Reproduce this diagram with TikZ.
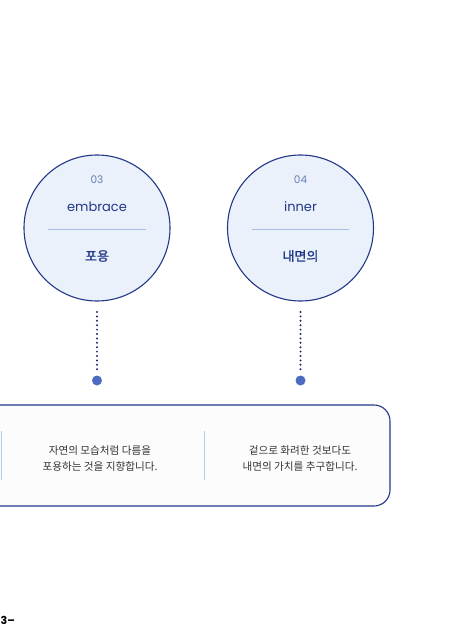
\documentclass[tikz,border=0pt]{standalone}
\usepackage{fontspec}
\setmainfont{Poppins}
\newfontfamily\kr{Noto Sans CJK KR}
\newfontfamily\krm[FakeBold=1.2]{Noto Sans CJK KR}
\newfontfamily\pop{Poppins}
\definecolor{navy}{HTML}{22388A}
\definecolor{cfill}{HTML}{EAF1FA}
\definecolor{sepline}{HTML}{A9BFE0}
\definecolor{dotc}{HTML}{1B2A78}
\definecolor{dotfill}{HTML}{4D6CBF}
\definecolor{numc}{HTML}{6A7EB6}
\definecolor{bodyc}{HTML}{333333}
\definecolor{boxfill}{HTML}{FCFCFC}
\definecolor{vsep}{HTML}{B5CDEB}
\begin{document}
\begin{tikzpicture}[x=1pt,y=-1pt,
  bubble/.style={circle,draw=navy,line width=1.1pt,fill=cfill,minimum size=146pt,inner sep=0pt},
  numtxt/.style={font=\pop\fontsize{10.5}{12}\selectfont,text=numc},
  entxt/.style={font=\pop\fontsize{13}{14}\selectfont,text=navy},
  krtxt/.style={font=\krm\fontsize{13}{14}\selectfont,text=navy},
  bodytxt/.style={font=\kr\fontsize{10.6}{16}\selectfont,text=bodyc,align=center},
  dotline/.style={dotc,line width=2.2pt,line cap=round,dash pattern=on 0pt off 4.4pt},
  enddot/.style={circle,fill=dotfill,minimum size=10pt,inner sep=0pt},
  innersep/.style={sepline,line width=0.8pt}]
\useasboundingbox (0,0) rectangle (457,644);
\clip (0,0) rectangle (457,644);
% bubbles
\node[bubble] (c1) at (97,228) {};
\node[bubble] (c2) at (300.5,228) {};
\node[numtxt] (n1) at (97,180) {03};
\node[entxt] (e1) at (97,207) {embrace};
\node[krtxt] (k1) at (97,256) {포용};
\coordinate (l1a) at (48,229.5); \coordinate (l1b) at (146,229.5);
\draw[innersep] (l1a) -- (l1b);
\node[numtxt] (n2) at (300.5,180) {04};
\node[entxt] (e2) at (300.5,207) {inner};
\node[krtxt] (k2) at (300.5,256) {내면의};
\coordinate (l2a) at (252,229.5); \coordinate (l2b) at (349,229.5);
\draw[innersep] (l2a) -- (l2b);
% connectors
\node[enddot] (d1) at (97,380.5) {};
\node[enddot] (d2) at (300.5,380.5) {};
\coordinate (t1) at (97,312); \coordinate (t2) at (300.5,312);
\draw[dotline] (t1) -- (97,372);
\draw[dotline] (t2) -- (300.5,372);
% box
\draw[navy,line width=1.1pt,fill=boxfill,rounded corners=16pt] (-30,405) rectangle (390,506);
\coordinate (s1a) at (1.5,431); \coordinate (s1b) at (1.5,480);
\coordinate (s2a) at (204.5,431); \coordinate (s2b) at (204.5,480);
\draw[vsep,line width=0.9pt] (s1a) -- (s1b);
\draw[vsep,line width=0.9pt] (s2a) -- (s2b);
\node[bodytxt] (b1) at (100,459) {자연의 모습처럼 다름을\\포용하는 것을 지향합니다.};
\node[bodytxt] (b2) at (300,459) {겉으로 화려한 것보다도\\내면의 가치를 추구합니다.};
% page number
\node[font=\pop\bfseries\fontsize{11}{12}\selectfont,text=black,anchor=west,inner sep=0pt] (pg) at (0.5,620) {3–};
\end{tikzpicture}
\end{document}
